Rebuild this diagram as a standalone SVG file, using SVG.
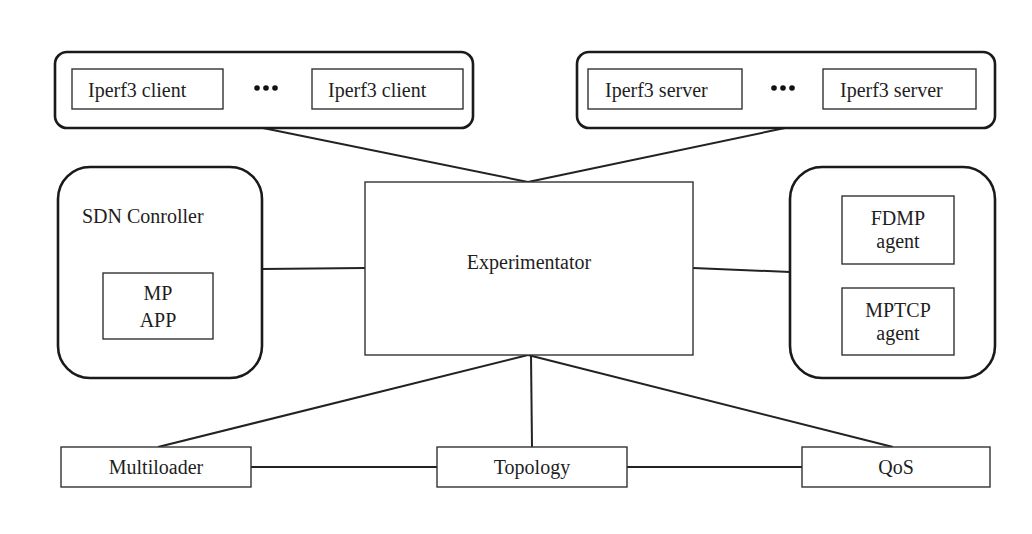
<svg xmlns="http://www.w3.org/2000/svg" width="1032" height="534" viewBox="0 0 1032 534">
  <style>
    .group { fill: #fff; stroke: #1a1a1a; stroke-width: 2.6; }
    .box { fill: #fff; stroke: #333; stroke-width: 1.4; }
    .label { font-family: "Liberation Serif", "Times New Roman", serif; font-size: 20px; fill: #1e1e1e; }
    .mid { text-anchor: middle; }
    .link { stroke: #222; stroke-width: 2; fill: none; }
    .dot { fill: #111; }
  </style>
  <rect width="1032" height="534" fill="#fff"/>

  <!-- connectors -->
  <g id="connectors">
    <line class="link" x1="263" y1="128" x2="528" y2="182"/>
    <line class="link" x1="785" y1="128" x2="528" y2="182"/>
    <line class="link" x1="262" y1="269" x2="365" y2="268"/>
    <line class="link" x1="693" y1="268" x2="790" y2="272"/>
    <line class="link" x1="528" y1="355" x2="158" y2="447"/>
    <line class="link" x1="531" y1="355" x2="532" y2="447"/>
    <line class="link" x1="528" y1="355" x2="893" y2="447"/>
    <line class="link" x1="251" y1="467" x2="437" y2="467"/>
    <line class="link" x1="627" y1="467" x2="802" y2="467"/>
  </g>

  <!-- iperf3 clients -->
  <g id="clients">
    <rect class="group" x="55" y="52" width="418" height="76" rx="12"/>
    <rect class="box" x="72" y="69" width="151" height="40"/>
    <text class="label" x="88" y="97">Iperf3 client</text>
    <circle class="dot" cx="257" cy="88" r="2.8"/>
    <circle class="dot" cx="266" cy="88" r="2.8"/>
    <circle class="dot" cx="275" cy="88" r="2.8"/>
    <rect class="box" x="312" y="69" width="151" height="40"/>
    <text class="label" x="328" y="97">Iperf3 client</text>
  </g>

  <!-- iperf3 servers -->
  <g id="servers">
    <rect class="group" x="577" y="52" width="418" height="76" rx="12"/>
    <rect class="box" x="588" y="69" width="154" height="40"/>
    <text class="label" x="605" y="97">Iperf3 server</text>
    <circle class="dot" cx="774" cy="88" r="2.8"/>
    <circle class="dot" cx="783" cy="88" r="2.8"/>
    <circle class="dot" cx="792" cy="88" r="2.8"/>
    <rect class="box" x="823" y="69" width="153" height="40"/>
    <text class="label" x="840" y="97">Iperf3 server</text>
  </g>

  <!-- SDN controller -->
  <g id="sdn-controller">
    <rect class="group" x="58" y="167" width="204" height="211" rx="32"/>
    <text class="label" x="82" y="223">SDN Conroller</text>
    <rect class="box" x="103" y="273" width="110" height="66"/>
    <text class="label mid" x="158" y="300">MP</text>
    <text class="label mid" x="158" y="327">APP</text>
  </g>

  <!-- experimentator -->
  <g id="experimentator">
    <rect class="box" x="365" y="182" width="328" height="173"/>
    <text class="label mid" x="529" y="269">Experimentator</text>
  </g>

  <!-- agents -->
  <g id="agents">
    <rect class="group" x="790" y="167" width="205" height="211" rx="32"/>
    <rect class="box" x="842" y="196" width="112" height="68"/>
    <text class="label mid" x="898" y="225">FDMP</text>
    <text class="label mid" x="898" y="248">agent</text>
    <rect class="box" x="842" y="288" width="112" height="67"/>
    <text class="label mid" x="898" y="317">MPTCP</text>
    <text class="label mid" x="898" y="340">agent</text>
  </g>

  <!-- bottom tools -->
  <g id="multiloader">
    <rect class="box" x="61" y="447" width="190" height="40"/>
    <text class="label mid" x="156" y="474">Multiloader</text>
  </g>
  <g id="topology">
    <rect class="box" x="437" y="447" width="190" height="40"/>
    <text class="label mid" x="532" y="474">Topology</text>
  </g>
  <g id="qos">
    <rect class="box" x="802" y="447" width="188" height="40"/>
    <text class="label mid" x="896" y="474">QoS</text>
  </g>
</svg>
